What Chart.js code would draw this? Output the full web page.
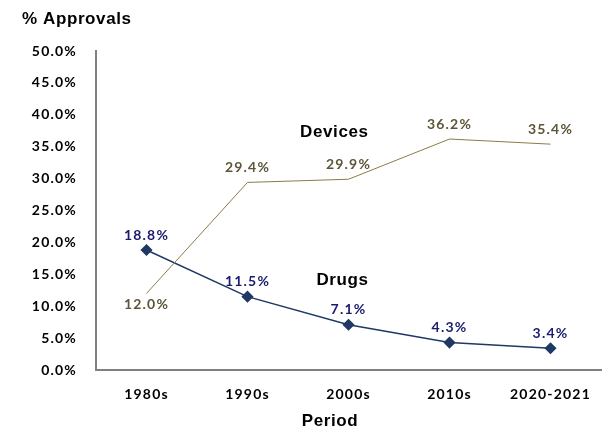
<!DOCTYPE html>
<html>
<head>
<meta charset="utf-8">
<script src="https://cdn.jsdelivr.net/npm/chart.js@4"></script>
<style>
	html, body { margin: 0; padding: 0; background: #fff; }
	.chart-wrapper { width: 608px; height: 433px; }
</style>
</head>
<body>
<div class="chart-wrapper">
	<canvas id="chart" width="608" height="433"></canvas>
</div>
<script>
const periods = ["1980s", "1990s", "2000s", "2010s", "2020-2021"];
const devices = [12.0, 29.4, 29.9, 36.2, 35.4];
const drugs = [18.8, 11.5, 7.1, 4.3, 3.4];
const yTicks = [0, 5, 10, 15, 20, 25, 30, 35, 40, 45, 50];

const labelFont = "bold 14px Lato, 'Open Sans', sans-serif";
const headFont = "bold 17px 'Liberation Sans', Arial, sans-serif";

// the reference text is a bit spaced out, canvas can do that
const spacing = {
	id: "spacing",
	beforeLayout(chart) { chart.ctx.letterSpacing = "1.2px"; },
	beforeDraw(chart) { chart.ctx.letterSpacing = "1.2px"; },
};

// draws value labels, series names and the axis headings
const annotate = {
	id: "annotate",
	afterDatasetsDraw(chart) {
		const ctx = chart.ctx;
		const x = chart.scales.x;
		const y = chart.scales.y;
		ctx.save();
		ctx.textAlign = "center";
		ctx.textBaseline = "middle";
		ctx.font = labelFont;
		ctx.letterSpacing = "1.2px";
		chart.data.datasets.forEach((ds, i) => {
			const meta = chart.getDatasetMeta(i);
			meta.data.forEach((pt, j) => {
				let dy = -15;
				if (i == 0 && j == 0) dy = 11;
				ctx.fillStyle = ds.labelColor;
				ctx.fillText(ds.data[j].toFixed(1) + "%", pt.x, pt.y + dy);
			});
		});

		// series names
		const step = x.getPixelForValue(1) - x.getPixelForValue(0);
		ctx.font = headFont;
		ctx.letterSpacing = "0.6px";
		ctx.fillStyle = "#000";
		ctx.fillText("Devices", x.getPixelForValue(1) + step * 0.86, y.getPixelForValue(37.2));
		ctx.fillText("Drugs", x.getPixelForValue(1) + step * 0.94, y.getPixelForValue(14.1));
		ctx.fillText("Period", 330, 421);

		ctx.textAlign = "left";
		ctx.fillText("% Approvals", 22, 19);
		ctx.restore();
	},
};

const tickFont = { family: "Lato, 'Open Sans', sans-serif", size: 14, weight: "bold" };

const ctx = document.getElementById("chart").getContext("2d");
const myChart = new Chart(ctx, {
	type: "line",
	data: {
		labels: periods,
		datasets: [
			{
				label: "Devices",
				data: devices,
				borderColor: "#8B7B4A",
				borderWidth: 1,
				pointRadius: 0,
				labelColor: "#5C5538",
			},
			{
				label: "Drugs",
				data: drugs,
				borderColor: "#1F3864",
				backgroundColor: "#1F3864",
				borderWidth: 1.5,
				pointStyle: "rectRot",
				pointRadius: 5,
				labelColor: "#1A1A6E",
			},
		],
	},
	plugins: [spacing, annotate],
	options: {
		responsive: false,
		animation: false,
		layout: { padding: { top: 51, right: 7, left: 0, bottom: 0 } },
		plugins: {
			legend: { display: false },
			tooltip: { enabled: false },
		},
		scales: {
			x: {
				offset: true,
				afterFit: (axis) => { axis.height = 63; },
				grid: { display: false, drawTicks: false },
				border: { display: true, color: "#808080", width: 2 },
				ticks: {
					padding: 16,
					color: "#000",
					font: tickFont,
				},
			},
			y: {
				min: 0,
				max: 50,
				afterFit: (axis) => { axis.width = 96; },
				afterBuildTicks: (axis) => { axis.ticks = yTicks.map((v) => ({ value: v })); },
				grid: { display: false, drawTicks: false },
				border: { display: true, color: "#808080", width: 2 },
				ticks: {
					padding: 19,
					color: "#000",
					font: tickFont,
					callback: function (value) {
						return value.toFixed(1) + "%";
					},
				},
			},
		},
	},
});
</script>
</body>
</html>
